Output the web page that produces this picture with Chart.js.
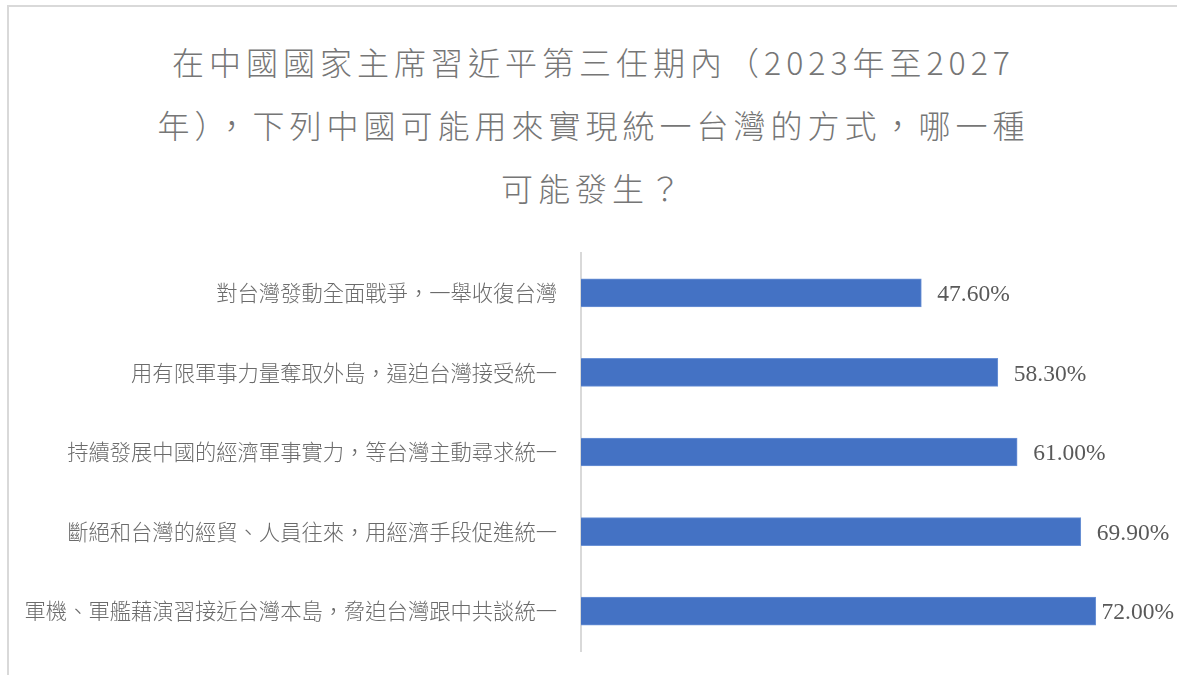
<!DOCTYPE html>
<html lang="zh-Hant-TW">
<head>
<meta charset="utf-8">
<script src="https://cdn.jsdelivr.net/npm/chart.js@4/dist/chart.umd.min.js"></script>
<style>
  html, body { margin: 0; padding: 0; background: #fff; }
  #wrap { position: relative; width: 1181px; height: 675px; overflow: hidden; }
  #frame { position: absolute; left: 7px; top: 5px; width: 1170px; height: 700px;
           border-top: 2px solid #d9d9d9; border-left: 2px solid #d9d9d9; box-sizing: border-box; }
  #title { position: absolute; left: 0; top: 30px; width: 1187px; text-align: center;
           font-family: "Noto Sans CJK TC", "Noto Sans", sans-serif; font-size: 32px; font-weight: 300;
           line-height: 63px; color: #767676; letter-spacing: 5px; }
  canvas { position: absolute; left: 0; top: 0; }
</style>
</head>
<body>
<div id="wrap">
  <div id="frame"></div>
  <div id="title" lang="zh-Hant-TW">在中國國家主席習近平第三任期內（2023年至2027<br>年），下列中國可能用來實現統一台灣的方式，哪一種<br>可能發生？</div>
  <canvas id="c" width="1181" height="675" lang="zh-Hant-TW"></canvas>
</div>
<script>
const categories = [
  "對台灣發動全面戰爭，一舉收復台灣",
  "用有限軍事力量奪取外島，逼迫台灣接受統一",
  "持續發展中國的經濟軍事實力，等台灣主動尋求統一",
  "斷絕和台灣的經貿、人員往來，用經濟手段促進統一",
  "軍機、軍艦藉演習接近台灣本島，脅迫台灣跟中共談統一"
];
const values = [47.6, 58.3, 61.0, 69.9, 72.0];
const valueLabels = ["47.60%", "58.30%", "61.00%", "69.90%", "72.00%"];

const labelPlugin = {
  id: 'valueLabels',
  afterDatasetsDraw(chart) {
    const ctx = chart.ctx;
    const meta = chart.getDatasetMeta(0);
    ctx.save();
    ctx.font = '23.5px "Liberation Serif", "Times New Roman", serif';
    ctx.fillStyle = '#595959';
    ctx.textBaseline = 'middle';
    ctx.textAlign = 'left';
    meta.data.forEach((bar, i) => {
      const t = valueLabels[i];
      const w = ctx.measureText(t).width;
      const x = Math.min(bar.x + 16, 1174 - w);
      ctx.fillText(t, x, bar.y + 2);
    });
    ctx.restore();
  }
};

new Chart(document.getElementById('c'), {
  type: 'bar',
  data: {
    labels: categories,
    datasets: [{
      data: values,
      backgroundColor: '#4472C4',
      borderColor: '#6d93d6',
      borderWidth: 1,
      barThickness: 28
    }]
  },
  options: {
    indexAxis: 'y',
    responsive: false,
    animation: false,
    layout: { padding: { left: 0, top: 253, bottom: 24, right: 28 } },
    plugins: { legend: { display: false }, title: { display: false }, tooltip: { enabled: false } },
    scales: {
      x: {
        min: 0, max: 80,
        display: false,
        grid: { display: false }
      },
      y: {
        afterFit(scale) { scale.width = 581; scale.paddingTop = 0; scale.paddingBottom = 0; },
        grid: { display: false, drawTicks: false },
        border: { display: true, color: '#d9d9d9', width: 2 },
        ticks: {
          padding: 24,
          color: '#6b6b6b',
          font: { family: '"Noto Sans CJK TC", "Noto Sans", sans-serif', size: 21.3, weight: '300' }
        }
      }
    }
  },
  plugins: [labelPlugin]
});
</script>
</body>
</html>
